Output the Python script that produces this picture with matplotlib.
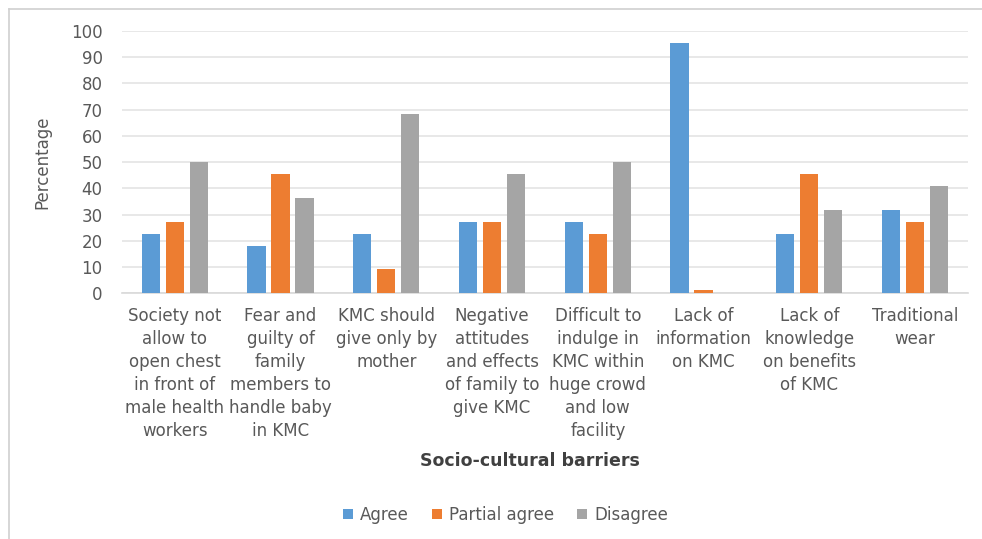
import matplotlib

matplotlib.use("Agg")

import matplotlib.pyplot as plt
import numpy as np
from matplotlib.lines import Line2D
from matplotlib.patches import Patch

plt.rcParams["font.family"] = ["DejaVu Sans"]

categories = [
    "Society not\nallow to\nopen chest\nin front of\nmale health\nworkers",
    "Fear and\nguilty of\nfamily\nmembers to\nhandle baby\nin KMC",
    "KMC should\ngive only by\nmother",
    "Negative\nattitudes\nand effects\nof family to\ngive KMC",
    "Difficult to\nindulge in\nKMC within\nhuge crowd\nand low\nfacility",
    "Lack of\ninformation\non KMC",
    "Lack of\nknowledge\non benefits\nof KMC",
    "Traditional\nwear",
]
series_names = ["Agree", "Partial agree", "Disagree"]
agree = [22.7, 18.2, 22.7, 27.3, 27.3, 95.5, 22.7, 31.8]
partial_agree = [27.3, 45.5, 9.1, 27.3, 22.7, 1.1, 45.5, 27.3]
disagree = [50.0, 36.4, 68.2, 45.5, 50.0, 0.0, 31.8, 40.9]
yticks = [0, 10, 20, 30, 40, 50, 60, 70, 80, 90, 100]

colors = ["#5B9BD5", "#ED7D31", "#A5A5A5"]
text_color = "#595959"

fig = plt.figure(figsize=(9.82, 5.39), dpi=100)
ax = fig.add_axes([0.1242, 0.4558, 0.8615, 0.4872])

x = np.arange(len(categories))
step = 0.227
width = 0.173
for i, (values, color) in enumerate(zip([agree, partial_agree, disagree], colors)):
    ax.bar(x + (i - 1) * step, values, width, color=color, zorder=3)

ax.set_xlim(-0.5, len(categories) - 0.5)
ax.set_ylim(0, 100)
ax.set_yticks(yticks)
ax.set_yticklabels([str(t) for t in yticks], fontsize=12, color=text_color)
ax.set_xticks(x)
ax.set_xticklabels(categories, fontsize=12, color=text_color, linespacing=1.36, va="top")
ax.tick_params(axis="both", length=0)
ax.tick_params(axis="x", pad=10)
ax.tick_params(axis="y", pad=14)
ax.grid(axis="y", color="#E4E4E4", linewidth=1.2, zorder=0)
for side in ["top", "right", "left"]:
    ax.spines[side].set_visible(False)
ax.spines["bottom"].set_color("#D9D9D9")
ax.spines["bottom"].set_linewidth(1.2)

ax.set_ylabel("Percentage", fontsize=12, color=text_color, labelpad=14)

fig.text(0.54, 1 - 461 / 539, "Socio-cultural barriers", ha="center", va="center",
         fontsize=12.5, fontweight="bold", color="#404040")

handles = [Patch(facecolor=c, edgecolor="none") for c in colors]
fig.legend(handles, series_names, loc="center", bbox_to_anchor=(0.515, 1 - 515 / 539),
           ncol=3, frameon=False, fontsize=12, labelcolor=text_color,
           handlelength=0.6, handleheight=0.6, handletextpad=0.4, columnspacing=1.4)

# light frame: left and top edges only, as in the cropped reference
frame_kw = dict(color="#D0D0D0", linewidth=1.2, transform=fig.transFigure)
fig.add_artist(Line2D([9 / 982, 9 / 982], [1 - 9 / 539, 0.0], **frame_kw))
fig.add_artist(Line2D([9 / 982, 1.0], [1 - 9 / 539, 1 - 9 / 539], **frame_kw))

fig.savefig("out.png", dpi=100)
plt.close(fig)
